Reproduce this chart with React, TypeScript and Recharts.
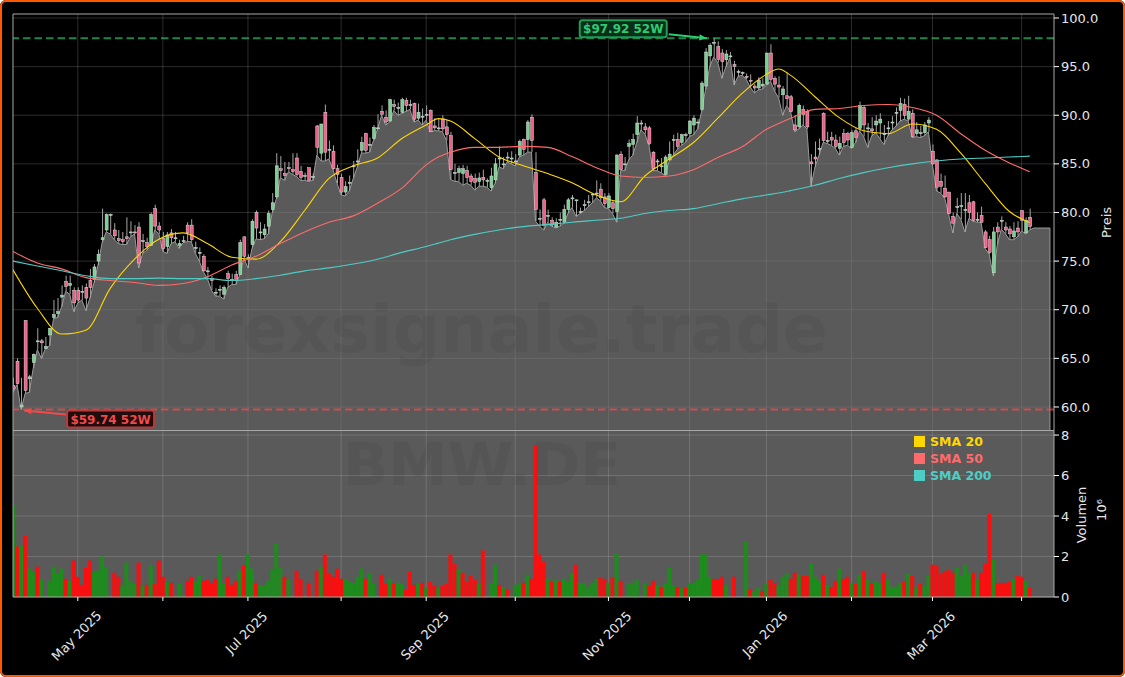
import React from "react";
import {
  Area,
  Bar,
  CartesianGrid,
  Cell,
  ComposedChart,
  Legend,
  Line,
  ReferenceDot,
  ReferenceLine,
  XAxis,
  YAxis,
} from "recharts";

const opens = [
  62.2, 64.7, 60.0, 68.9, 62.9, 64.6, 66.7, 66.8, 66.0, 67.4,
  69.2, 69.6, 71.3, 72.9, 72.5, 72.0, 72.0, 71.9, 72.3, 73.0,
  73.1, 75.0, 77.2, 78.2, 79.7, 78.2, 77.3, 77.2, 77.5, 77.9,
  78.0, 78.5, 77.0, 76.9, 76.6, 80.4, 78.6, 77.3, 76.5, 77.9,
  77.3, 76.6, 77.0, 78.7, 78.7, 76.3, 75.8, 75.5, 73.9, 73.2,
  71.7, 72.0, 71.6, 73.7, 73.0, 73.6, 73.6, 77.5, 75.3, 76.7,
  80.0, 77.9, 77.7, 78.6, 80.3, 81.6, 84.5, 84.0, 84.6, 84.4,
  85.6, 84.2, 83.7, 84.6, 83.6, 88.9, 86.1, 90.3, 86.4, 86.3,
  84.5, 83.6, 82.1, 83.0, 84.7, 85.2, 86.4, 88.1, 86.9, 87.6,
  88.6, 90.4, 89.8, 89.4, 91.1, 90.7, 90.3, 91.5, 91.0, 91.2,
  89.7, 89.8, 90.0, 90.5, 88.9, 88.6, 89.6, 88.8, 87.9, 84.0,
  84.1, 84.0, 84.3, 83.75, 83.5, 83.2, 83.6, 83.2, 82.55, 83.35,
  85.5, 84.9, 85.6, 85.5, 85.2, 85.9, 87.5, 87.5, 89.8, 84.1,
  79.3, 81.3, 79.6, 79.2, 78.5, 79.2, 79.0, 80.3, 81.4, 81.2,
  80.0, 80.7, 81.0, 81.8, 81.9, 82.4, 81.6, 80.5, 81.0, 80.1,
  86.0, 84.9, 86.8, 87.0, 88.0, 89.1, 88.8, 88.7, 86.2, 85.2,
  84.7, 83.9, 85.4, 87.4, 87.5, 87.2, 87.9, 88.1, 89.0, 89.2,
  90.6, 93.0, 96.1, 97.4, 97.05, 96.4, 95.7, 96.0, 95.2, 94.4,
  94.3, 94.0, 93.6, 93.0, 92.8, 93.0, 93.2, 96.4, 93.8, 93.1,
  92.1, 92.0, 91.9, 89.0, 88.8, 90.6, 90.4, 85.2, 85.7, 86.5,
  90.2, 87.3, 87.7, 87.45, 86.6, 88.1, 88.1, 86.7, 88.4, 88.65,
  90.8, 88.6, 88.6, 89.0, 89.2, 88.0, 88.6, 89.2, 90.2, 90.5,
  91.1, 89.6, 90.2, 88.1, 88.1, 88.2, 89.2, 86.3, 85.4, 83.2,
  82.5, 82.1, 79.6, 80.5, 80.6, 80.2, 81.0, 81.1, 79.2, 79.7,
  78.0, 77.2, 73.8, 78.5, 79.1, 78.5, 78.3, 77.5, 78.4, 80.2, 77.9, 79.5,
];

const closes = [
  61.9, 62.4, 60.2, 61.7, 63.1, 65.4, 66.8, 66.6, 66.2, 68.1,
  69.5, 69.8, 71.5, 72.4, 72.7, 70.7, 71.0, 71.9, 71.2, 72.3,
  74.4, 75.7, 77.4, 79.8, 79.8, 77.6, 77.1, 77.0, 77.3, 78.0,
  77.9, 74.8, 77.1, 76.5, 79.8, 78.6, 78.2, 76.3, 77.7, 77.4,
  77.4, 76.8, 77.1, 77.9, 77.2, 76.4, 75.9, 74.0, 74.0, 73.0,
  71.8, 72.1, 72.3, 73.2, 73.1, 73.0, 76.9, 75.5, 75.4, 79.1,
  78.4, 78.0, 78.3, 79.9, 81.0, 84.8, 84.3, 83.8, 84.5, 84.2,
  83.9, 83.6, 83.8, 83.3, 83.7, 86.7, 89.1, 86.2, 86.5, 84.5,
  83.9, 82.1, 82.65, 83.1, 84.8, 85.3, 87.2, 86.4, 87.0, 88.75,
  88.7, 90.1, 89.3, 91.6, 90.9, 90.8, 91.6, 91.0, 91.1, 89.6,
  90.3, 89.9, 90.1, 88.3, 88.7, 88.7, 88.6, 88.0, 84.4, 84.1,
  84.5, 84.5, 83.6, 83.2, 83.1, 83.55, 83.35, 83.3, 83.75, 85.0,
  85.6, 85.0, 85.7, 85.6, 85.3, 87.3, 86.5, 89.3, 87.4, 80.3,
  79.4, 78.7, 79.7, 78.7, 79.0, 79.3, 80.3, 81.3, 81.5, 81.3,
  80.1, 80.8, 81.1, 81.9, 82.0, 81.5, 80.9, 81.7, 80.4, 85.9,
  84.4, 85.0, 87.1, 87.5, 89.2, 89.2, 88.5, 87.1, 84.5, 85.3,
  84.8, 85.7, 86.0, 87.5, 86.8, 88.0, 88.0, 89.4, 89.7, 89.3,
  93.3, 96.5, 97.2, 97.5, 95.75, 95.5, 96.3, 96.1, 95.0, 94.5,
  94.4, 93.9, 93.5, 92.8, 93.6, 93.2, 96.4, 93.7, 93.2, 92.9,
  92.7, 91.7, 90.4, 88.5, 91.0, 90.1, 88.8, 85.0, 85.5, 86.6,
  87.4, 87.4, 87.45, 86.8, 87.1, 87.2, 87.45, 88.2, 87.7, 91.0,
  89.0, 88.7, 88.4, 89.4, 89.6, 88.1, 88.7, 89.3, 90.3, 91.2,
  90.0, 90.4, 87.8, 88.5, 88.2, 89.0, 89.5, 85.0, 82.6, 82.7,
  81.6, 79.9, 78.9, 80.6, 80.7, 80.3, 80.0, 79.2, 79.3, 79.0,
  76.4, 75.9, 78.0, 78.0, 79.2, 78.2, 77.8, 78.1, 78.0, 79.2, 79.2, 78.55,
];

const highs = [
  63.0, 65.0, 63.0, 68.9, 63.3, 65.5, 68.1, 67.0, 67.2, 68.1,
  71.0, 71.2, 72.5, 73.5, 73.5, 72.3, 72.3, 72.5, 72.7, 74.2,
  74.7, 76.2, 80.4, 79.9, 79.9, 78.9, 78.2, 78.0, 79.5, 79.1,
  78.7, 79.0, 77.8, 77.4, 80.0, 80.8, 79.0, 78.0, 78.0, 78.3,
  78.0, 77.2, 77.6, 79.0, 79.3, 77.0, 76.4, 75.7, 74.4, 73.5,
  72.2, 72.5, 72.5, 74.0, 73.7, 74.0, 77.2, 77.5, 75.7, 79.3,
  80.2, 79.0, 78.8, 80.2, 82.0, 86.1, 85.8, 85.2, 85.2, 86.1,
  86.1, 84.8, 84.1, 84.6, 84.0, 89.0, 89.1, 91.1, 87.4, 86.9,
  84.9, 84.0, 83.2, 83.8, 85.3, 86.5, 87.8, 88.2, 87.7, 89.0,
  90.1, 91.0, 90.5, 91.7, 91.6, 91.3, 91.8, 91.8, 91.6, 91.3,
  91.2, 90.7, 91.0, 90.6, 89.7, 89.6, 90.0, 89.5, 88.3, 85.0,
  84.8, 84.9, 84.8, 84.0, 84.0, 84.1, 84.4, 83.5, 84.6, 85.6,
  86.8, 85.7, 86.2, 86.3, 86.0, 87.5, 87.6, 89.5, 90.1, 86.2,
  80.3, 81.5, 80.3, 79.5, 79.4, 80.0, 80.8, 81.5, 81.8, 81.3,
  80.5, 81.3, 81.8, 82.0, 83.3, 83.0, 82.0, 82.0, 81.2, 86.0,
  86.3, 85.7, 87.5, 88.1, 89.9, 89.5, 89.2, 88.9, 86.3, 85.5,
  85.6, 85.9, 87.3, 88.0, 88.2, 88.1, 88.2, 89.5, 90.0, 89.6,
  93.5, 96.9, 97.4, 97.92, 97.6, 96.8, 96.7, 96.5, 95.6, 94.7,
  94.5, 94.3, 94.2, 93.2, 93.9, 93.8, 96.4, 97.3, 94.0, 94.0,
  93.0, 94.4, 92.1, 90.0, 91.2, 91.0, 90.6, 86.0, 87.3, 87.6,
  90.3, 88.3, 88.3, 88.0, 87.8, 88.6, 88.3, 88.5, 88.7, 91.4,
  91.0, 89.2, 89.8, 90.0, 90.2, 89.0, 89.4, 89.9, 90.8, 91.8,
  91.7, 92.0, 90.6, 89.3, 88.9, 89.3, 89.8, 87.0, 85.5, 84.0,
  83.8, 82.1, 80.0, 81.5, 82.0, 82.0, 81.8, 81.2, 80.0, 80.6,
  78.2, 77.6, 78.5, 79.0, 79.6, 79.0, 78.6, 79.0, 79.1, 80.2, 79.5, 80.4,
];

const lows = [
  61.5, 62.3, 59.74, 61.4, 61.5, 64.0, 65.9, 65.0, 66.0, 66.3,
  69.1, 69.2, 70.3, 71.9, 71.6, 69.8, 70.7, 71.0, 69.9, 71.2,
  72.8, 74.6, 76.9, 78.0, 77.8, 77.2, 76.8, 76.7, 76.7, 77.5,
  77.8, 74.3, 75.8, 76.1, 76.6, 78.2, 77.8, 76.0, 75.8, 76.8,
  77.0, 76.3, 76.9, 77.0, 77.0, 75.8, 75.0, 73.9, 73.2, 72.0,
  71.4, 71.4, 71.1, 72.3, 72.6, 72.6, 73.6, 75.3, 74.3, 76.3,
  77.3, 77.2, 77.3, 77.8, 80.0, 81.4, 83.6, 83.3, 84.2, 83.9,
  83.7, 83.3, 83.3, 83.2, 83.3, 85.9, 85.3, 85.3, 85.5, 84.4,
  83.0, 81.8, 81.7, 82.2, 83.5, 84.7, 86.1, 86.1, 86.2, 87.4,
  88.6, 90.0, 89.0, 89.3, 90.5, 90.0, 90.2, 90.4, 90.6, 89.3,
  89.5, 89.0, 89.5, 88.3, 88.4, 88.4, 88.3, 87.4, 83.4, 83.2,
  83.2, 82.8, 83.0, 82.8, 82.3, 82.7, 82.7, 82.6, 82.2, 83.0,
  84.7, 84.5, 85.2, 85.0, 84.8, 85.7, 85.9, 86.2, 86.2, 79.1,
  78.6, 78.2, 79.0, 78.6, 78.4, 78.6, 78.9, 79.9, 80.5, 79.6,
  79.9, 80.2, 80.6, 81.0, 81.5, 81.2, 80.5, 80.4, 79.9, 79.0,
  84.3, 84.3, 85.4, 85.9, 87.2, 88.5, 88.1, 86.9, 84.3, 84.3,
  84.1, 83.8, 85.3, 85.9, 86.5, 86.9, 87.2, 87.8, 88.0, 88.6,
  90.4, 92.7, 95.0, 96.0, 95.4, 93.8, 95.0, 95.9, 93.1, 94.0,
  94.1, 93.7, 92.9, 92.3, 92.6, 92.7, 93.1, 93.5, 92.5, 91.8,
  90.0, 91.0, 90.3, 88.3, 88.6, 89.0, 88.6, 82.7, 84.7, 85.9,
  87.2, 87.1, 86.9, 86.6, 85.9, 86.8, 86.9, 86.6, 87.2, 88.4,
  87.8, 86.7, 87.9, 88.2, 87.6, 87.0, 87.9, 88.5, 88.9, 89.4,
  89.6, 89.4, 87.7, 87.8, 87.7, 87.9, 88.3, 84.9, 82.2, 82.0,
  81.5, 79.8, 77.9, 79.9, 79.3, 78.0, 79.4, 79.1, 79.0, 79.0,
  76.3, 75.7, 73.5, 76.7, 78.3, 77.8, 77.2, 77.2, 77.5, 78.1, 77.8, 78.2,
];

// volume in millions
const volumes = [
  4.5, 2.5, 2.55, 3.05, 1.4, 1.25, 1.5, 0.9, 0, 0.8,
  1.5, 1.15, 1.4, 0.9, 0.8, 1.8, 1.0, 0.6, 1.45, 1.8,
  1.25, 1.3, 2.0, 1.5, 0, 1.2, 1.0, 0.6, 1.7, 0.8,
  0.65, 1.7, 0.6, 0.6, 1.55, 0.65, 1.8, 1.0, 0.75, 0.7,
  0, 0.65, 0, 0.8, 1.0, 0.75, 1.05, 0.8, 0.85, 0.7,
  0.9, 2.1, 0.65, 1.0, 0.6, 0.8, 1.3, 1.55, 2.1, 1.4,
  0.7, 0.6, 0.55, 0.8, 1.35, 2.65, 1.45, 1.0, 0.85, 0,
  1.3, 0.9, 0, 0.7, 0, 1.3, 1.5, 2.1, 1.15, 1.0,
  1.4, 0.9, 0.9, 0.75, 0.7, 1.0, 1.4, 0.9, 1.2, 0.7,
  0, 1.1, 0.65, 0.9, 0.65, 0.7, 0.65, 0.35, 1.25, 0.6,
  0.65, 0.7, 0.45, 0.75, 0.55, 0.45, 0.55, 0.65, 2.1, 1.65,
  1.35, 1.2, 0.75, 1.05, 0.85, 0.65, 2.3, 0, 0.7, 1.6,
  0.6, 0.5, 0.4, 0, 0.6, 0.7, 0.7, 1.1, 0.9, 7.5,
  2.1, 1.75, 0.9, 0.75, 0.85, 0.75, 0.9, 0.75, 1.15, 1.6,
  0.7, 0.7, 0.5, 0.7, 0.9, 0.95, 0.9, 0.7, 0.95, 2.15,
  0.8, 0, 0.7, 0.7, 0.85, 0, 0.7, 0.55, 0.8, 0.6,
  0.5, 0.7, 1.45, 0.6, 0.5, 0.45, 0.45, 0.7, 0.7, 0.85,
  2.1, 2.1, 1.0, 0.9, 0.85, 1.0, 0.6, 0, 1.0, 0,
  0, 2.75, 0.4, 0.3, 0.45, 0.3, 0.7, 0.85, 0.7, 0.6,
  1.0, 1.15, 0.9, 1.2, 1.1, 1.05, 1.05, 1.65, 1.0, 0.8,
  1.1, 0.6, 0.5, 0.8, 1.4, 0.9, 1.0, 0.7, 0.65, 1.1,
  1.3, 0.85, 0.65, 0.75, 0.7, 1.2, 0.85, 0.5, 0.5, 0.7,
  0.75, 1.15, 1.05, 0.5, 0.65, 0.6, 1.1, 1.6, 1.55, 1.15,
  1.25, 1.35, 1.2, 1.45, 1.05, 1.6, 1.2, 1.2, 0.85, 1.2,
  1.65, 4.1, 1.85, 0.7, 0.7, 0.7, 0.75, 0.9, 1.05, 1.0, 0.8, 0.45,
];

// G = green bar, R = red bar, ten per group
const volumeDirs = (
  "GRGRGGRGRG GGGRGRRRRR GGGGRRRGGG GRGRGRRRGR RGRRRGGRRR " +
  "RGGRRRGRGG RGGGGGGRGR RRRRRRGRRR RRGGGGGRGG RRRGRGGRRR " +
  "GRGRRGRRRR GRRRRGRRGG RGRRGGRGRR RRGRGRGGGR GGGGGRRGRG " +
  "RRGGGRGRRG RGGGRGRGGG GGGRRRGRRR RGRGGRGRRG GGRRGRRGGG " +
  "RGRRGRRGRG RGRGGRGGGG RGRGRGGRRR RRRGGGGRGR RRGRRRRGRR GR"
).replace(/ /g, "");

const smaIndex = [
  0, 6, 12, 18, 24, 30, 36, 42, 48, 54, 60, 66, 72, 78, 84, 90, 96, 102, 105, 108, 114, 120,
  126, 132, 138, 144, 150, 156, 162, 168, 174, 180, 186, 189, 192, 198, 204, 210, 216, 222,
  228, 234, 240, 246, 251,
];
const sma20 = [
  74.1, 70.15, 67.5, 67.9, 72.2, 75.2, 77.25, 77.9, 76.8, 75.4,
  75.2, 77.0, 80.2, 83.5, 84.8, 85.6, 87.6, 89.0, 89.65, 89.4, 87.6,
  85.7, 84.8, 84.0, 83.06, 81.8, 81.1, 83.75, 85.5, 87.2, 89.7,
  92.25, 94.2, 94.75, 94.1, 91.9, 89.75, 88.4, 88.1, 89.1, 88.55, 86.1,
  83.0, 80.1, 78.96,
];
const sma50 = [
  76.0, 74.8, 74.2, 73.3, 73.0, 72.8, 72.5, 72.7, 73.4, 74.6,
  75.5, 76.8, 78.0, 79.0, 79.65, 80.95, 82.5, 84.9, 85.7, 86.2, 86.7,
  86.7, 86.8, 86.7, 85.75, 84.6, 83.75, 83.6, 83.75, 84.4, 85.65,
  86.75, 88.55, 89.15, 89.7, 90.6, 90.7, 91.0, 91.1, 90.8, 90.0, 88.1,
  86.4, 85.1, 84.2,
];
const sma200 = [
  75.0, 74.5, 74.0, 73.5, 73.2, 73.2, 73.25, 73.2, 73.2, 73.0,
  73.2, 73.55, 74.0, 74.3, 74.7, 75.2, 75.9, 76.5, 76.85, 77.2, 77.75,
  78.2, 78.55, 78.75, 79.0, 79.2, 79.4, 79.9, 80.2, 80.4, 80.9,
  81.4, 81.8, 82.0, 82.25, 82.8, 83.5, 84.1, 84.6, 85.0, 85.3, 85.5,
  85.6, 85.7, 85.8,
];

const monthTicks = [16, 37, 58, 81, 102, 124, 147, 167, 186, 207, 227, 249];
const monthLabels: Record<number, string> = {
  16: "May 2025",
  58: "Jul 2025",
  102: "Sep 2025",
  147: "Nov 2025",
  186: "Jan 2026",
  227: "Mar 2026",
};
const priceTicks = [60, 65, 70, 75, 80, 85, 90, 95, 100];
const volumeTicks = [0, 2, 4, 6, 8];

const high52w = 97.92;
const low52w = 59.74;
const tailLow = 78.4;
const lastIndex = 256;

const PRICE_DOMAIN = [57.53, 100.41];
const VOLUME_DOMAIN = [0, 8.2];
const X_DOMAIN = [0, 257];

const candleRows = closes.map((close, i) => ({
  i,
  open: opens[i],
  close,
  high: highs[i],
  low: lows[i],
  range: [lows[i], highs[i]],
}));
const areaRows = [
  ...lows.map((low, i) => ({ i, low })),
  ...[252, 253, 254, 255, 256].map((i) => ({ i, low: tailLow })),
];
const volumeRows = volumes.map((volume, i) => ({ i, volume, dir: volumeDirs[i] }));
const toSma = (values: number[]) => values.map((v, k) => ({ i: smaIndex[k], v }));

const FONT = "'DejaVu Sans', sans-serif";
const TEXT = "#e6e6e6";
const SPINE = "#a8a8a8";

const CandleShape = (props: any) => {
  const { x, y, width, height, payload } = props;
  const span = payload.high - payload.low;
  const unit = span > 0 ? Math.abs(height) / span : 0;
  const at = (v: number) => y + (payload.high - v) * unit;
  const up = payload.close >= payload.open;
  const top = at(Math.max(payload.open, payload.close));
  const bottom = at(Math.min(payload.open, payload.close));
  const cx = x + width / 2;
  return (
    <g>
      <line x1={cx} x2={cx} y1={y} y2={y + Math.abs(height)} stroke="#a6a6a6" strokeWidth={1} />
      <rect
        x={x}
        y={top}
        width={width}
        height={Math.max(bottom - top, 1)}
        fill={up ? "#78d090" : "#ee6088"}
        stroke="#dcdcdc"
        strokeWidth={0.5}
      />
    </g>
  );
};

const Callout = ({ cx, cy, dx, dy, w, label, color, border, fill }: any) => {
  const boxX = cx + dx;
  const boxY = cy + dy;
  const fromRight = dx < 0;
  const sx = fromRight ? boxX + w + 2 : boxX - 1;
  const sy = fromRight ? boxY + 14 : boxY + 4;
  const tx = fromRight ? cx - 3 : cx + 2;
  const ty = fromRight ? cy : cy + 1;
  const ang = Math.atan2(ty - sy, tx - sx);
  const head = 8;
  return (
    <g>
      <line x1={sx} y1={sy} x2={tx} y2={ty} stroke={color} strokeWidth={2} />
      <polygon
        points={`${tx},${ty} ${tx - head * Math.cos(ang - 0.4)},${ty - head * Math.sin(ang - 0.4)} ${
          tx - head * Math.cos(ang + 0.4)
        },${ty - head * Math.sin(ang + 0.4)}`}
        fill={color}
      />
      <rect x={boxX} y={boxY} width={w} height={17} rx={2.5} fill={fill} stroke={border} strokeWidth={2} />
      <text
        x={boxX + w / 2}
        y={boxY + 13}
        textAnchor="middle"
        fontFamily={FONT}
        fontWeight={700}
        fontSize={12}
        fill={color}
      >
        {label}
      </text>
    </g>
  );
};

const MonthTick = ({ x, y, payload }: any) => {
  const label = monthLabels[payload.value];
  if (!label) return null;
  const len = label.startsWith("Jul") ? 53 : label.startsWith("Jan") ? 57 : 62;
  const cy = y + 7 + (len + 12) * 0.354;
  return (
    <text
      x={x - 1}
      y={cy + 4}
      textAnchor="middle"
      fontFamily={FONT}
      fontSize={13}
      fill={TEXT}
      transform={`rotate(-45 ${x - 1} ${cy})`}
    >
      {label}
    </text>
  );
};

const SmaLegend = ({ payload }: any) => {
  const items = (payload || [])
    .filter((entry: any) => String(entry.value).startsWith("SMA"))
    .sort((a: any, b: any) => parseInt(a.value.slice(4)) - parseInt(b.value.slice(4)));
  return (
    <div style={{ fontFamily: FONT, fontWeight: 700, fontSize: 12.5 }}>
      {items.map((entry: any) => (
        <div key={entry.value} style={{ display: "flex", alignItems: "center", height: 17, color: entry.color }}>
          <span style={{ width: 11, height: 11, background: entry.color, marginRight: 5, display: "inline-block" }} />
          {entry.value}
        </div>
      ))}
    </div>
  );
};

const VolumeLabel = ({ viewBox }: any) => {
  const cy = viewBox.y + viewBox.height / 2;
  const x1 = viewBox.x + 32;
  const x2 = viewBox.x + 52;
  return (
    <g fontFamily={FONT} fill={TEXT} fontSize={13} textAnchor="middle">
      <text x={x1} y={cy + 1} transform={`rotate(-90 ${x1} ${cy + 1})`}>
        Volumen
      </text>
      <text x={x2} y={cy - 4} transform={`rotate(-90 ${x2} ${cy - 4})`}>
        10⁶
      </text>
    </g>
  );
};

const axisTick = { fontFamily: FONT, fontSize: 13, fill: TEXT };

export default function App() {
  return (
    <div style={{ position: "absolute", left: 0, top: 0, width: 1125, height: 677, background: "#fff" }}>
      <div style={{ position: "absolute", inset: 0, background: "#000", borderRadius: 6 }} />

      {/* volume panel, svg starts above the plot so the "8" tick label keeps its full height */}
      <div style={{ position: "absolute", left: 0, top: 415 }}>
        <ComposedChart width={1125} height={262} data={volumeRows} margin={{ top: 16, right: 0, bottom: 0, left: 13 }}>
          <CartesianGrid
            fill="#5a5a5a"
            stroke="rgba(255,255,255,0.15)"
            horizontalValues={volumeTicks}
            verticalValues={monthTicks}
          />
          <XAxis
            type="number"
            dataKey="i"
            domain={X_DOMAIN}
            ticks={monthTicks}
            interval={0}
            height={80}
            allowDataOverflow
            tick={<MonthTick />}
            tickLine={{ stroke: "#fff" }}
            tickSize={4}
            axisLine={{ stroke: SPINE }}
          />
          <YAxis
            orientation="right"
            width={71}
            domain={VOLUME_DOMAIN}
            ticks={volumeTicks}
            interval={0}
            allowDataOverflow
            tick={axisTick}
            tickLine={{ stroke: "#fff" }}
            tickSize={5}
            axisLine={{ stroke: SPINE }}
            tickFormatter={(v: number) => String(v)}
            label={<VolumeLabel />}
          />
          <ReferenceLine x={0} stroke={SPINE} />
          <Bar dataKey="volume" barSize={4} isAnimationActive={false}>
            {volumeRows.map((row) => (
              <Cell key={row.i} fill={row.dir === "G" ? "#1d8c1d" : "#f81010"} />
            ))}
          </Bar>
        </ComposedChart>
      </div>

      {/* price panel */}
      <div style={{ position: "absolute", left: 0, top: 0, zIndex: 2 }}>
        <ComposedChart width={1125} height={431} data={candleRows} margin={{ top: 14, right: 0, bottom: 0, left: 13 }}>
          <CartesianGrid stroke="rgba(255,255,255,0.17)" horizontalValues={priceTicks} verticalValues={monthTicks} />
          <XAxis type="number" dataKey="i" domain={X_DOMAIN} ticks={monthTicks} hide allowDataOverflow />
          <YAxis
            orientation="right"
            width={71}
            domain={PRICE_DOMAIN}
            ticks={priceTicks}
            interval={0}
            allowDataOverflow
            tick={axisTick}
            tickLine={{ stroke: "#fff" }}
            tickSize={5}
            axisLine={{ stroke: SPINE }}
            tickFormatter={(v: number) => v.toFixed(1)}
            label={{
              value: "Preis",
              angle: -90,
              position: "insideRight",
              offset: 19,
              style: { fontFamily: FONT, fontSize: 13, fill: TEXT, textAnchor: "middle" },
            }}
          />
          <Area
            data={areaRows}
            dataKey="low"
            type="linear"
            fill="#808080"
            fillOpacity={0.7}
            stroke="#9a9a9a"
            strokeWidth={1}
            dot={false}
            activeDot={false}
            legendType="none"
            isAnimationActive={false}
          />
          <ReferenceLine
            segment={[
              { x: lastIndex, y: tailLow },
              { x: lastIndex, y: PRICE_DOMAIN[0] },
            ]}
            stroke="#9a9a9a"
          />
          <ReferenceLine y={PRICE_DOMAIN[1]} stroke={SPINE} />
          <ReferenceLine y={PRICE_DOMAIN[0]} stroke={SPINE} strokeWidth={2} />
          <ReferenceLine x={0} stroke={SPINE} />
          <ReferenceLine y={high52w} stroke="#2ecc71" strokeOpacity={0.65} strokeWidth={2} strokeDasharray="7.5 4" />
          <ReferenceLine y={low52w} stroke="#ff4d4d" strokeOpacity={0.65} strokeWidth={2} strokeDasharray="7.5 4" />
          <Bar dataKey="range" barSize={3} shape={<CandleShape />} legendType="none" isAnimationActive={false} />
          <Line
            data={toSma(sma20)}
            dataKey="v"
            name="SMA 20"
            type="monotone"
            stroke="#FFD700"
            strokeWidth={1.1}
            dot={false}
            activeDot={false}
            isAnimationActive={false}
          />
          <Line
            data={toSma(sma50)}
            dataKey="v"
            name="SMA 50"
            type="monotone"
            stroke="#FF6B6B"
            strokeWidth={1.1}
            dot={false}
            activeDot={false}
            isAnimationActive={false}
          />
          <Line
            data={toSma(sma200)}
            dataKey="v"
            name="SMA 200"
            type="monotone"
            stroke="#4ECDC4"
            strokeWidth={1.1}
            dot={false}
            activeDot={false}
            isAnimationActive={false}
          />
          <ReferenceDot
            x={173}
            y={high52w}
            shape={(p: any) => (
              <Callout
                cx={p.cx - 4}
                cy={p.cy}
                dx={-130}
                dy={-18}
                w={87}
                label="$97.92 52W"
                color="#2ecc71"
                border="#1f9d55"
                fill="#0b2e1a"
              />
            )}
          />
          <ReferenceDot
            x={2}
            y={low52w}
            shape={(p: any) => (
              <Callout
                cx={p.cx + 1}
                cy={p.cy}
                dx={45}
                dy={1}
                w={87}
                label="$59.74 52W"
                color="#f04a4a"
                border="#b83a3a"
                fill="#200c0c"
              />
            )}
          />
          <Legend
            layout="horizontal"
            align="center"
            verticalAlign="middle"
            wrapperStyle={{ left: 914, top: 433, width: 100, height: 54 }}
            content={<SmaLegend />}
          />
        </ComposedChart>
      </div>

      {/* watermarks */}
      <div
        style={{
          position: "absolute",
          left: 135,
          top: 289,
          zIndex: 3,
          fontFamily: FONT,
          fontWeight: 700,
          fontSize: 66.5,
          lineHeight: "80px",
          color: "rgba(0,0,0,0.055)",
          whiteSpace: "nowrap",
          pointerEvents: "none",
        }}
      >
        forexsignale.trade
      </div>
      <div
        style={{
          position: "absolute",
          left: 343,
          top: 430,
          zIndex: 3,
          fontFamily: FONT,
          fontWeight: 700,
          fontSize: 59.5,
          lineHeight: "70px",
          color: "rgba(0,0,0,0.055)",
          whiteSpace: "nowrap",
          pointerEvents: "none",
        }}
      >
        BMW.DE
      </div>

      <div
        style={{
          position: "absolute",
          inset: 0,
          zIndex: 4,
          border: "2px solid #ff5a00",
          borderRadius: 6,
          boxSizing: "border-box",
          pointerEvents: "none",
        }}
      />
    </div>
  );
}
